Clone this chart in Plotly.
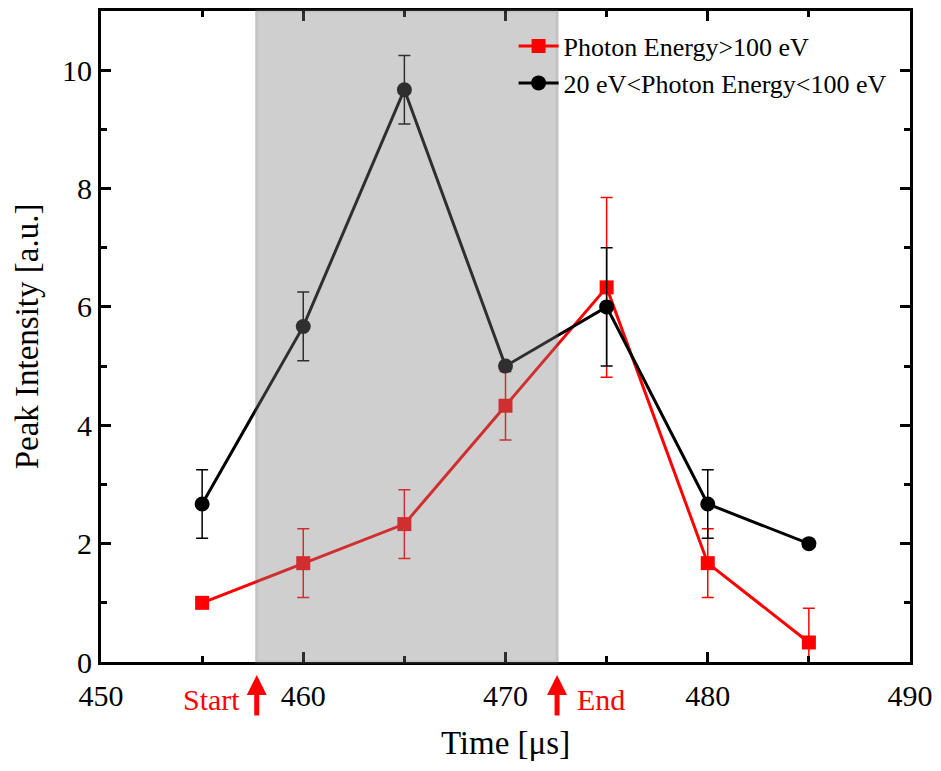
import plotly.graph_objects as go

time = [455, 460, 465, 470, 475, 480, 485]
red_vals = [1.0, 1.67, 2.33, 4.33, 6.33, 1.67, 0.33]
red_err = [0.0, 0.58, 0.58, 0.58, 1.52, 0.58, 0.58]
black_vals = [2.67, 5.67, 9.67, 5.0, 6.0, 2.67, 2.0]
black_err = [0.58, 0.58, 0.58, 0.0, 1.0, 0.58, 0.0]
shade_start, shade_end = 457.7, 472.55
red_name = "Photon Energy>100 eV"
black_name = "20 eV<Photon Energy<100 eV"

FONT = "Liberation Serif, Times New Roman, serif"

fig = go.Figure()
fig.add_trace(go.Scatter(
    x=time, y=red_vals, name=red_name, mode="lines+markers",
    line=dict(color="#ff0000", width=3),
    marker=dict(symbol="square", size=14, color="#ff0000"),
    error_y=dict(type="data", array=red_err, visible=True, color="#ff0000", thickness=1.5, width=6),
))
fig.add_trace(go.Scatter(
    x=time, y=black_vals, name=black_name, mode="lines+markers",
    line=dict(color="#000000", width=3),
    marker=dict(symbol="circle", size=15, color="#000000"),
    error_y=dict(type="data", array=black_err, visible=True, color="#000000", thickness=1.5, width=6),
))

fig.add_shape(type="rect", xref="x", yref="paper", x0=shade_start, x1=shade_end, y0=0, y1=1,
              fillcolor="#808080", opacity=0.37, line=dict(color="#606060", width=3), layer="above")

# arrows and labels
for xv, label, side in [(shade_start, "Start", "left"), (shade_end, "End", "right")]:
    fig.add_annotation(x=xv, y=-0.02, xref="x", yref="paper", ax=0, ay=42, axref="pixel", ayref="pixel",
                       text="", showarrow=True, arrowhead=2, arrowsize=0.8, arrowwidth=5, arrowcolor="#ff0000")
    fig.add_annotation(x=xv, y=-0.058, xref="x", yref="paper", text=label, showarrow=False,
                       xanchor="right" if side == "left" else "left",
                       xshift=-15 if side == "left" else 18, yanchor="middle",
                       font=dict(family=FONT, size=30, color="#ff0000"))

axis_common = dict(showline=True, linecolor="black", linewidth=3, mirror="allticks",
                   ticks="inside", ticklen=10, tickwidth=2.5, tickcolor="black",
                   showgrid=False, zeroline=False,
                   tickfont=dict(family=FONT, size=30, color="black"))

fig.update_xaxes(range=[450, 490], dtick=10, tick0=450, ticklabelstandoff=5,
                 minor=dict(dtick=5, ticks="inside", ticklen=6, tickwidth=2.5, tickcolor="black"),
                 title=dict(text="Time [μs]", font=dict(family=FONT, size=33, color="black"), standoff=20),
                 **axis_common)
fig.update_yaxes(range=[0, 11], dtick=2, tick0=0,
                 minor=dict(dtick=1, ticks="inside", ticklen=6, tickwidth=2.5, tickcolor="black"),
                 title=dict(text="Peak Intensity [a.u.]", font=dict(family=FONT, size=33, color="black"), standoff=14),
                 **axis_common)

fig.update_layout(
    width=941, height=771,
    margin=dict(l=101, r=29, t=8, b=109),
    plot_bgcolor="white", paper_bgcolor="white",
    legend=dict(x=0.51, y=0.982, xanchor="left", yanchor="top", bgcolor="rgba(0,0,0,0)",
                font=dict(family=FONT, size=26, color="black"), tracegroupgap=0, itemwidth=40),
)

fig.write_html("out.html")
